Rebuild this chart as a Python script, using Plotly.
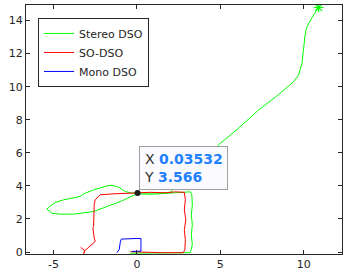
import plotly.graph_objects as go

# ---- data ----
stereo_x = [-0.40, 0.80, 2.00, 3.20, 3.32, 3.26, 3.32, 3.26, 3.32, 3.29, 3.20, 2.60, 1.70, 0.80, 0.02,
            -0.40, -1.00, -1.80, -2.60, -3.80, -4.60, -5.10, -5.40,
            -5.20, -4.90, -4.40, -3.80, -3.40, -3.20, -2.60, -1.80, -1.50, -1.10, -0.70, -0.30, 0.00,
            0.80, 1.70, 2.00, 3.00, 4.00, 4.89, 6.10, 7.29, 8.40, 9.39, 9.69, 9.89, 10.03, 10.09, 10.19, 10.50, 10.89]
stereo_y = [-0.07, -0.07, -0.07, -0.04, 0.44, 1.04, 1.65, 2.25, 2.85, 3.46, 3.64, 3.61, 3.52, 3.49, 3.52,
            3.32, 3.05, 2.75, 2.45, 2.29, 2.29, 2.35, 2.60,
            2.79, 2.99, 3.16, 3.26, 3.36, 3.52, 3.76, 4.00, 4.04, 3.92, 3.66, 3.56, 3.56,
            3.54, 3.58, 3.62, 4.50, 5.40, 6.48, 7.50, 8.59, 9.45, 10.30, 10.70, 11.41, 12.61, 13.22, 13.62, 14.20, 14.79]

so_x = [-3.37, -3.13, -3.19, -3.13, -2.92, -2.68, -2.50, -2.56, -2.62, -2.64, -2.60, -2.60, -2.60, -2.56,
        -2.50, -2.30, -2.20, -1.40, -0.60, 0.00, 0.80, 1.70, 2.30, 2.84,
        2.90, 2.84, 2.93, 2.84, 2.90, 2.87, 2.78, 1.40, 0.20, -0.40]
so_y = [0.29, 0.08, -0.10, 0.08, 0.26, 0.47, 0.64, 0.84, 1.16, 1.45, 1.54, 2.07, 2.55, 2.91,
        3.16, 3.40, 3.46, 3.52, 3.56, 3.56, 3.61, 3.58, 3.64, 3.61,
        3.16, 2.55, 1.95, 1.35, 0.74, 0.14, -0.04, -0.04, -0.01, 0.02]

mono_x = [-0.30, 0.00, 0.24, 0.24, 0.24, 0.00, -0.50, -0.94, -1.00, -1.03, -1.06, -1.20]
mono_y = [0.04, 0.04, 0.05, 0.40, 0.82, 0.82, 0.80, 0.78, 0.60, 0.40, 0.16, -0.04]

tip_x = 0.03532
tip_y = 3.566

x_ticks = [-5, 0, 5, 10]
y_ticks = [0, 2, 4, 6, 8, 10, 12, 14]

# ---- figure ----
fig = go.Figure()
fig.add_trace(go.Scatter(x=stereo_x, y=stereo_y, mode="lines", name="Stereo DSO",
                         line=dict(color="#00FF00", width=1)))
fig.add_trace(go.Scatter(x=stereo_x[-1:], y=stereo_y[-1:], mode="markers", showlegend=False,
                         marker=dict(symbol="asterisk-open", size=8, color="#00FF00",
                                     line=dict(color="#00FF00", width=1.2))))
fig.add_trace(go.Scatter(x=so_x, y=so_y, mode="lines", name="SO-DSO",
                         line=dict(color="#FF0000", width=1)))
fig.add_trace(go.Scatter(x=mono_x, y=mono_y, mode="lines", name="Mono DSO",
                         line=dict(color="#0000FF", width=1)))
fig.add_trace(go.Scatter(x=[tip_x], y=[tip_y], mode="markers", showlegend=False,
                         marker=dict(color="#1a1a1a", size=6)))

val_color = "#1E80FF"
fig.add_annotation(
    x=tip_x, y=tip_y, xref="x", yref="y", showarrow=False,
    xanchor="left", yanchor="bottom", xshift=1, yshift=3, align="left",
    text=(f"X <b><span style='color:{val_color}'>{tip_x}</span></b><br>"
          f"Y <b><span style='color:{val_color}'>{tip_y}</span></b>"),
    font=dict(family="DejaVu Sans", size=14, color="#333333"),
    bgcolor="rgba(250,250,255,0.95)", bordercolor="#A0A0A0", borderwidth=1, borderpad=4,
)

axis_common = dict(
    showline=True, linecolor="#262626", linewidth=1, mirror="ticks",
    ticks="inside", ticklen=4, tickcolor="#262626", showgrid=False, zeroline=False,
    automargin=False,
    tickfont=dict(family="DejaVu Sans", size=11, color="#262626"),
)
fig.update_xaxes(range=[-6.65, 12.29], tickvals=x_ticks, ticktext=[str(v) for v in x_ticks], **axis_common)
fig.update_yaxes(range=[-0.12, 14.94], tickvals=y_ticks, ticktext=[str(v) for v in y_ticks], **axis_common)

fig.update_layout(
    width=347, height=280,
    margin=dict(l=26, r=5, t=5, b=26),
    paper_bgcolor="white", plot_bgcolor="white",
    showlegend=True,
    legend=dict(x=0.038, y=0.948, xanchor="left", yanchor="top",
                bgcolor="white", bordercolor="#262626", borderwidth=1,
                font=dict(family="DejaVu Sans", size=11, color="#262626"),
                tracegroupgap=0, itemwidth=30),
)

fig.write_html("out.html", config={"displayModeBar": False},
               post_script="document.body.style.margin='0';")
